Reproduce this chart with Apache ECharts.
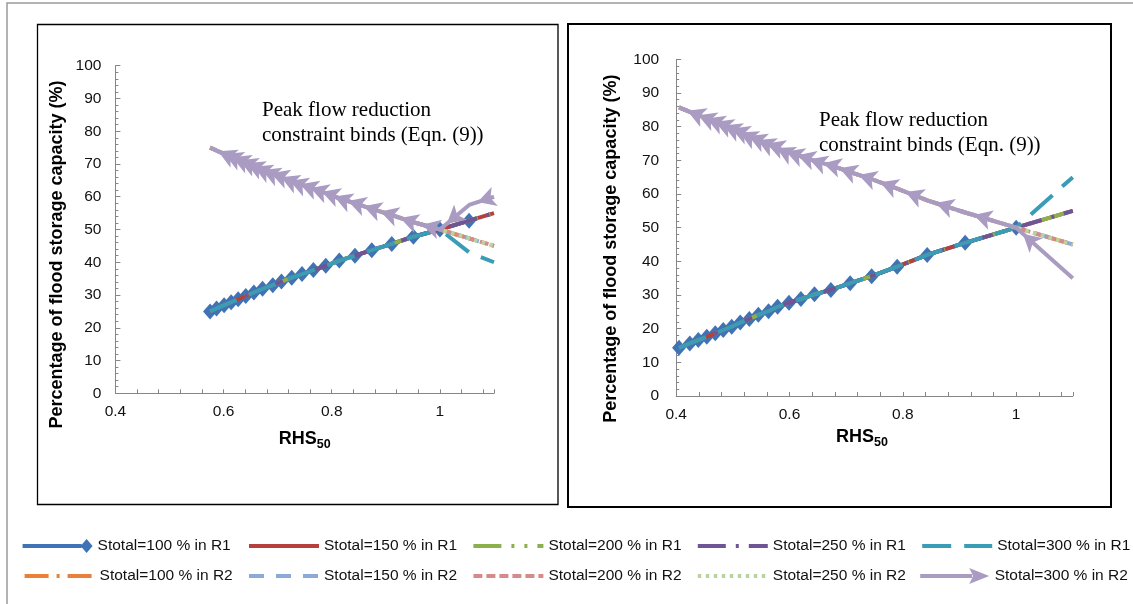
<!DOCTYPE html>
<html><head><meta charset="utf-8">
<script src="https://cdn.jsdelivr.net/npm/echarts@6/dist/echarts.min.js"></script>
<style>html,body{margin:0;padding:0;background:#fff}#c{width:1133px;height:604px}</style>
</head><body><div id="c"></div>
<script>
// ---------- DATA ----------
const seriesNames = [
  'Stotal=100 % in R1','Stotal=150 % in R1','Stotal=200 % in R1','Stotal=250 % in R1','Stotal=300 % in R1',
  'Stotal=100 % in R2','Stotal=150 % in R2','Stotal=200 % in R2','Stotal=250 % in R2','Stotal=300 % in R2'
];
const xTickLabels = ['0.4','0.6','0.8','1'];
const yTickLabels = ['0','10','20','30','40','50','60','70','80','90','100'];

// Left panel: shared RHS50 points up to 1.0
const leftX      = [0.575,0.587,0.601,0.614,0.627,0.641,0.656,0.672,0.691,0.707,0.726,0.745,0.766,0.789,0.814,0.843,0.874,0.911,0.951,1.0];
const leftLowerY = [25.0,25.9,26.9,27.8,28.7,29.7,30.8,31.9,33.0,34.1,35.3,36.4,37.6,38.9,40.5,42.0,43.7,45.6,47.8,50.0];
const leftUpperY = [75.0,74.1,73.1,72.2,71.3,70.3,69.2,68.1,67.0,65.9,64.7,63.6,62.4,61.1,59.5,58.0,56.3,54.4,52.2,50.0];
// Left panel: beyond RHS50 = 1
const leftTailX      = [1.054,1.1];
const leftTail100R1  = [52.7,null];
const leftTailR1     = [52.7,55.0];
const leftTail300R1  = [43.0,40.0];
const leftTailR2     = [47.3,45.0];
const leftTail300R2  = [57.5,60.0];

// Right panel
const rightX      = [0.405,0.424,0.439,0.454,0.469,0.483,0.498,0.513,0.529,0.545,0.563,0.579,0.599,0.620,0.644,0.673,0.707,0.745,0.790,0.843,0.910,1.0];
const rightLowerY = [14.3,15.6,16.6,17.6,18.6,19.6,20.6,21.8,22.9,24.1,25.2,26.5,27.7,28.8,30.2,31.5,33.5,35.6,38.4,41.9,45.5,50.0];
const rightUpperY = [85.7,84.4,83.4,82.4,81.4,80.4,79.4,78.2,77.1,75.9,74.8,73.5,72.3,71.2,69.8,68.5,66.5,64.4,61.6,58.1,54.5,50.0];
const rightTailX      = [1.1];
const rightTail100R1  = [null];
const rightTailR1     = [55.0];
const rightTail300R1  = [65.0];
const rightTailR2     = [45.0];
const rightTail300R2  = [35.0];

// ---------- STYLES ----------
const FONT = '"Liberation Sans", Arial, sans-serif';
const LW = 4;
const styles = [
  {color:'#3F73B5', type:'solid'},
  {color:'#B5403C', type:'solid'},
  {color:'#8CB04C', type:[28,10,3,10,3,10]},
  {color:'#6E5596', type:[28,10,3,10]},
  {color:'#3A9DB6', type:[29,13]},
  {color:'#E9803A', type:[24,8,3,8]},
  {color:'#8DAAD6', type:[15,12]},
  {color:'#D58B8B', type:[9,4]},
  {color:'#BAD49C', type:[3.5,4.5]},
  {color:'#A99BC2', type:'solid'}
];
const ARROW_W = 15, ARROW_H = 18;

function pts(xs, ys){ const out=[]; xs.forEach((x,i)=>{ if(ys[i]!=null) out.push([x,ys[i]]); }); return out; }

function panelData(X, lower, upper, tx, t100R1, tR1, t300R1, tR2, t300R2){
  const lo = pts(X, lower), up = pts(X, upper);
  return [
    lo.concat(pts(tx,t100R1)),
    lo.concat(pts(tx,tR1)),
    lo.concat(pts(tx,tR1)),
    lo.concat(pts(tx,tR1)),
    lo.concat(pts(tx,t300R1)),
    up.concat(pts(tx,tR2)),
    up.concat(pts(tx,tR2)),
    up.concat(pts(tx,tR2)),
    up.concat(pts(tx,tR2)),
    up.concat(pts(tx,t300R2)).reverse()
  ];
}
const panels = [
  panelData(leftX, leftLowerY, leftUpperY, leftTailX, leftTail100R1, leftTailR1, leftTail300R1, leftTailR2, leftTail300R2),
  panelData(rightX, rightLowerY, rightUpperY, rightTailX, rightTail100R1, rightTailR1, rightTail300R1, rightTailR2, rightTail300R2)
];

const series = [];
panels.forEach((pdata, g) => {
  pdata.forEach((d, k) => {
    const s = {
      id: 's'+g+'_'+k, name: seriesNames[k], type:'line',
      xAxisIndex:g, yAxisIndex:g, data:d,
      lineStyle:{color:styles[k].color, width:LW, type:styles[k].type},
      itemStyle:{color:styles[k].color},
      symbol:'none', showAllSymbol:true, animation:false, z: 2 + k*0.01
    };
    if (k === 0) { s.symbol = 'diamond'; s.symbolSize = [14,16]; }
    if (k === 9) { s.symbol = 'arrow'; s.symbolSize = [ARROW_W, ARROW_H]; }
    series.push(s);
  });
});

function xAxis(g, labelMargin){
  return {
    type:'value', gridIndex:g, min:0.4, max:1.1, interval:0.04,
    axisLine:{show:true, lineStyle:{color:'#868686', width:1}},
    axisTick:{show:true, inside:true, length:4, lineStyle:{color:'#868686'}},
    splitLine:{show:false},
    axisLabel:{margin:labelMargin, fontSize:15.5, fontFamily:FONT, color:'#111',
      formatter: v => { const r = v/0.2; if (Math.abs(r-Math.round(r))>1e-6) return '';
        const idx = Math.round(r)-2; return xTickLabels[idx] !== undefined ? xTickLabels[idx] : ''; }},
    name:'{a|RHS}{b|50}', nameLocation:'middle', nameGap: g===0 ? 33 : 28,
    nameTextStyle:{ padding: g===0 ? [0,0,0,0] : [0,25,0,0],
      rich:{ a:{fontSize:18, fontWeight:'bold', fontFamily:FONT, color:'#000'},
             b:{fontSize:12.5, fontWeight:'bold', fontFamily:FONT, color:'#000', padding:[12,0,0,0]} } }
  };
}
function yAxis(g, labelMargin, nameGap, shift){
  return {
    type:'value', gridIndex:g, min:0, max:100, interval:10,
    axisLine:{show:true, lineStyle:{color:'#868686', width:1}},
    axisTick:{show:true, inside:true, length:5, lineStyle:{color:'#868686'}},
    minorTick:{show:true, splitNumber:5, length:3, lineStyle:{color:'#868686'}},
    splitLine:{show:false},
    axisLabel:{margin:labelMargin, fontSize:15.5, fontFamily:FONT, color:'#111',
      formatter: v => yTickLabels[Math.round(v/10)]},
    name:'Percentage of flood storage capacity (%)', nameLocation:'middle', nameGap:nameGap,
    nameTextStyle:{fontSize:18, fontWeight:'bold', fontFamily:FONT, color:'#000', padding:[0,shift,0,0]}
  };
}

const legendIcons = {
  0: 'path://M0,5L59,5L59,9L0,9Z M58,7L64,0L70,7L64,14Z',
  9: 'path://M0,6L52,6L52,10L0,10Z M49,0L69,8L49,16L53,8Z'
};
const legends = seriesNames.map((n, k) => {
  const col = k % 5, row = Math.floor(k/5);
  const item = legendIcons[k] ? {name:n, icon:legendIcons[k]} : {name:n};
  const lg = {
    data:[item], left: 22.6 + 224.4*col, top: row===0 ? 538 : 568,
    padding:0, itemWidth:70, itemHeight: k===9 ? 16 : 14, itemGap:0,
    selectedMode:false,
    lineStyle:{width:LW},
    textStyle:{fontSize:15.5, fontFamily:FONT, color:'#111', padding:[0,0,0,0]}
  };
  if (!legendIcons[k]) lg.itemStyle = {opacity:0};
  return lg;
});

const option = {
  backgroundColor:'#fff',
  animation:false,
  grid:[
    {left:115.4, top:65.7, width:378.6, height:327.6},
    {left:676.2, top:59.3, width:396.6, height:336.7}
  ],
  xAxis:[xAxis(0,10), xAxis(1,11)],
  yAxis:[yAxis(0,14,49,50), yAxis(1,17,56,42)],
  legend: legends,
  graphic:[
    {type:'polyline', silent:true, z:-1, shape:{points:[[7,604],[7,3],[1133,3]]}, style:{stroke:'#9a9a9a', lineWidth:1.5, fill:null}},
    {type:'rect', silent:true, z:-1, shape:{x:37.5, y:24.5, width:520.5, height:480}, style:{stroke:'#000', lineWidth:1.3, fill:null}},
    {type:'rect', silent:true, z:-1, shape:{x:568, y:24, width:543, height:483}, style:{stroke:'#000', lineWidth:2, fill:null}},
    {type:'text', left:262, top:97.5, silent:true,
      style:{text:'Peak flow reduction\nconstraint binds (Eqn. (9))', font:'21px "Liberation Serif", "Times New Roman", serif', fill:'#000', lineHeight:25}},
    {type:'text', left:819, top:108, silent:true,
      style:{text:'Peak flow reduction\nconstraint binds (Eqn. (9))', font:'21px "Liberation Serif", "Times New Roman", serif', fill:'#000', lineHeight:25}}
  ],
  series: series
};

const chart = echarts.init(document.getElementById('c'), null, {renderer:'canvas'});
chart.setOption(option);

// orient arrow markers along each segment's direction (tip at the data point)
const updates = [];
[0,1].forEach(g => {
  const d = panels[g][9];
  const data = d.map((p, i) => {
    if (i === 0) return {value:p, symbol:'none'};
    const a = chart.convertToPixel({gridIndex:g}, d[i-1]);
    const b = chart.convertToPixel({gridIndex:g}, p);
    const dx = b[0]-a[0], dy = b[1]-a[1];
    const len = Math.hypot(dx,dy) || 1;
    const rot = Math.atan2(-dy, dx)*180/Math.PI - 90;
    return {value:p, symbolRotate:rot, symbolOffset:[-dx/len*ARROW_H/2, -dy/len*ARROW_H/2]};
  });
  updates.push({id:'s'+g+'_9', data:data});
});
chart.setOption({series:updates});
</script>
</body></html>
